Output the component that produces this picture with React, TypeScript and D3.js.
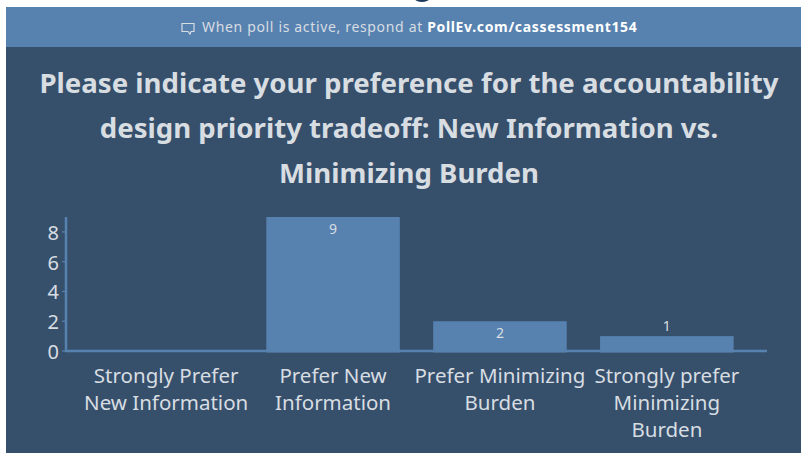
import React from "react";
import * as d3 from "d3";

const categories = [
  ["Strongly Prefer", "New Information"],
  ["Prefer New", "Information"],
  ["Prefer Minimizing", "Burden"],
  ["Strongly prefer", "Minimizing", "Burden"],
];
const values = [0, 9, 2, 1];
const yTicks = [0, 2, 4, 6, 8];
const titleLines = [
  "Please indicate your preference for the accountability",
  "design priority tradeoff: New Information vs.",
  "Minimizing Burden",
];

const W = 801, H = 453;
const BG = "#36506c", BAR = "#5782b0", TXT = "#d8dde2";
const FONT = "'Noto Sans', sans-serif";

export default function App() {
  const ids = categories.map((_, i) => String(i));
  const x = d3.scaleBand().domain(ids).range([66, 767]).padding(0.2);
  const y = d3.scaleLinear().domain([0, 9]).range([351, 217]);
  return (
    <svg width={W} height={H} viewBox={`0 0 ${W} ${H}`} style={{ position: "fixed", left: 0, top: 0, fontFamily: FONT }}>
      <rect width={W} height={H} fill="#fff" />
      <ellipse cx={422} cy={-1} rx={7} ry={3} fill="#1f3a5f" />
      <rect x={6} y={7} width={W - 6} height={H - 7} fill={BG} />
      <rect x={6} y={7} width={W - 6} height={40} fill={BAR} />
      <g fill="none" stroke={TXT} strokeWidth={1.2}>
        <path d="M182 23.500h12v8h-3l-1 2.500-2-2.500h-6z" />
      </g>
      <text x={202} y={32} fontSize={14} fill={TXT} letterSpacing={0.66}>
        When poll is active, respond at{" "}
        <tspan fontWeight={700} fill="#fff">PollEv.com/cassessment154</tspan>
      </text>
      {titleLines.map((t, i) => (
        <text key={i} x={409} y={93 + i * 45} fontSize={27.6} fontWeight={700} fill={TXT} textAnchor="middle">{t}</text>
      ))}
      {values.map((v, i) => {
        const bx = x(ids[i])!, bw = x.bandwidth();
        const cx = bx + bw / 2;
        return (
          <g key={i}>
            {v > 0 && <rect x={bx} y={y(v)} width={bw} height={y(0) - y(v) + 1.500} fill={BAR} />}
            {v > 0 && (
              <text x={cx} y={v === 1 ? y(v) - 5 : y(v) + 17} fontSize={14} fill={TXT} textAnchor="middle">{v}</text>
            )}
            {categories[i].map((l, j) => (
              <text key={j} x={cx} y={383 + j * 27} fontSize={20.5} fill={TXT} textAnchor="middle">{l}</text>
            ))}
          </g>
        );
      })}
      <line x1={66} x2={66} y1={217} y2={352} stroke={BAR} strokeWidth={2.5} />
      <line x1={65} x2={767} y1={351} y2={351} stroke={BAR} strokeWidth={2.5} />
      {yTicks.map((t) => (
        <g key={t}>
          <line x1={62} x2={66} y1={y(t)} y2={y(t)} stroke={BAR} strokeWidth={1.2} />
          <text x={59} y={y(t) + 8} fontSize={20} fill={TXT} textAnchor="end">{t}</text>
        </g>
      ))}
    </svg>
  );
}
